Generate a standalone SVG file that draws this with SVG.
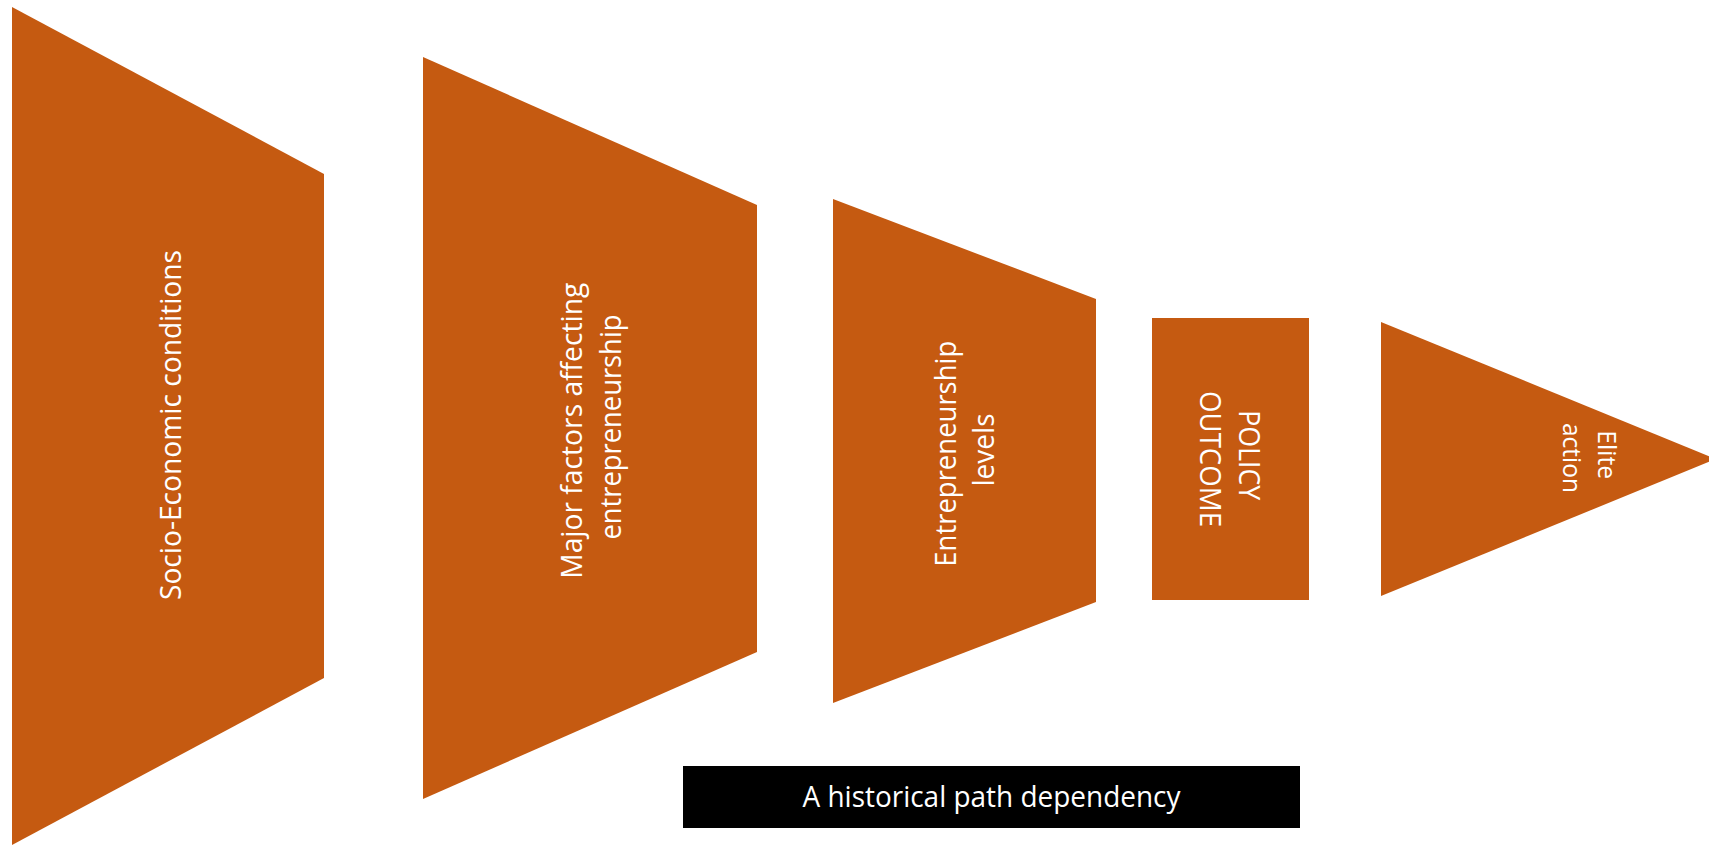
<svg xmlns="http://www.w3.org/2000/svg" width="1709" height="845" viewBox="0 0 1709 845">
<style>
.shape{fill:#C55A11;}
.lbl{font-family:"Open Sans","Liberation Sans",sans-serif;font-size:28.5px;fill:#FFFFFF;text-anchor:middle;}
.sm{font-size:25px;}
</style>
<rect x="0" y="0" width="1709" height="845" fill="#FFFFFF"/>
<g id="socio-economic">
<polygon class="shape" points="12,7 324,174 324,678 12,845"/>
<text class="lbl" transform="translate(181,425) rotate(-90)" x="0" y="0" textLength="350" lengthAdjust="spacingAndGlyphs">Socio-Economic conditions</text>
</g>
<g id="major-factors">
<polygon class="shape" points="423,57 757,205 757,652 423,799"/>
<text class="lbl" transform="translate(582,427) rotate(-90)">
<tspan x="0" y="0" textLength="296" lengthAdjust="spacingAndGlyphs">Major factors affecting</tspan>
<tspan x="0" y="38.5" textLength="225" lengthAdjust="spacingAndGlyphs">entrepreneurship</tspan>
</text>
</g>
<g id="entrepreneurship-levels">
<polygon class="shape" points="833,199 1096,299 1096,602 833,703"/>
<text class="lbl" transform="translate(956,450) rotate(-90)">
<tspan x="0" y="0" textLength="226" lengthAdjust="spacingAndGlyphs">Entrepreneurship</tspan>
<tspan x="0" y="37.5" textLength="73" lengthAdjust="spacingAndGlyphs">levels</tspan>
</text>
</g>
<g id="policy-outcome">
<rect class="shape" x="1152" y="318" width="157" height="282"/>
<text class="lbl" transform="translate(1239,459) rotate(90)">
<tspan x="0" y="0" textLength="90" lengthAdjust="spacingAndGlyphs">POLICY</tspan>
<tspan x="0" y="39.5" textLength="136" lengthAdjust="spacingAndGlyphs">OUTCOME</tspan>
</text>
</g>
<g id="elite-action">
<polygon class="shape" points="1381,322 1716,459 1381,596"/>
<text class="lbl sm" transform="translate(1598,458) rotate(90)">
<tspan x="0" y="0" textLength="49" lengthAdjust="spacingAndGlyphs">Elite</tspan>
<tspan x="0" y="35" textLength="70" lengthAdjust="spacingAndGlyphs">action</tspan>
</text>
</g>
<g id="path-dependency">
<rect x="683" y="766" width="617" height="62" fill="#000000"/>
<text class="lbl" x="991.5" y="807" textLength="378" lengthAdjust="spacingAndGlyphs">A historical path dependency</text>
</g>
</svg>
